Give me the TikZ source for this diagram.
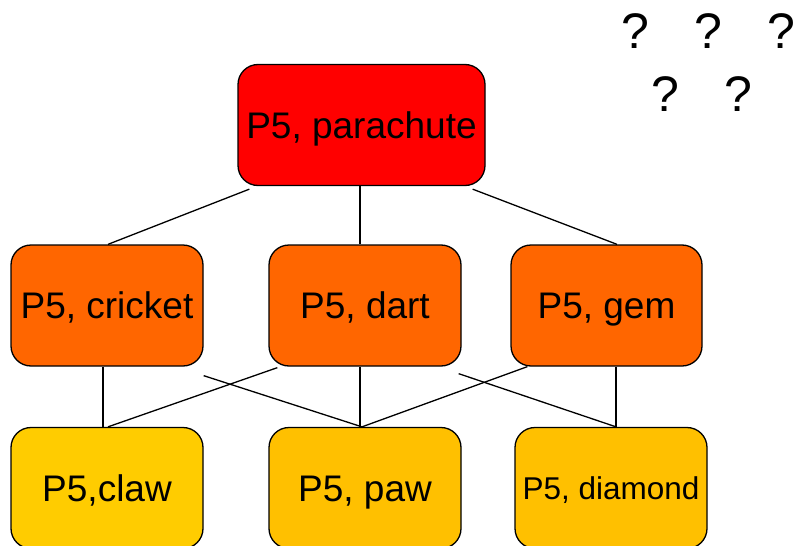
\documentclass[tikz,border=0pt]{standalone}
\usepackage{fontspec}
\setmainfont{Liberation Sans}
\definecolor{topred}{HTML}{FF0000}
\definecolor{midorange}{HTML}{FF6600}
\definecolor{lowgold}{HTML}{FFCC00}
\definecolor{lowamber}{HTML}{FFC000}
\tikzset{
  box/.style={draw=black, line width=1.3pt, rounded corners=20pt,
    inner sep=0pt, minimum width=192pt, minimum height=121pt,
    text height=26.5pt, text depth=0pt,
    font=\fontsize{37}{40}\selectfont, text=black},
  smallbox/.style={box, text height=22.6pt, font=\fontsize{31.5}{34}\selectfont},
  link/.style={draw=black, line width=1.3pt},
  qmark/.style={font=\fontsize{50}{55}\selectfont, inner sep=0pt}
}
\begin{document}
\begin{tikzpicture}[x=1pt, y=-1pt]
\useasboundingbox (0,0) rectangle (793,546);
% top level
\node[box, fill=topred, minimum width=247pt] (par) at (361.5,125) {P5, parachute};
% middle level
\node[box, fill=midorange] (cri) at (107,305.5) {P5, cricket};
\node[box, fill=midorange] (dar) at (365,305.5) {P5, dart};
\node[box, fill=midorange, minimum width=191pt] (gem) at (606.5,305.5) {P5, gem};
% bottom level
\node[box, fill=lowgold] (claw) at (107,488) {P5,claw};
\node[box, fill=lowamber] (paw) at (365,488) {P5, paw};
\node[smallbox, fill=lowamber] (dia) at (611,488) {P5, diamond};
% links from the top box
\draw[link] ([xshift=12pt,yshift=-3pt]par.south west) -- ([xshift=1pt]cri.north);
\draw[link] ([xshift=-5pt]dar.north) -- ([xshift=-5pt]dar.north |- par.south);
\draw[link] ([xshift=-13pt,yshift=-3pt]par.south east) -- ([xshift=10.5pt]gem.north);
% links to the bottom row
\draw[link] ([xshift=-4pt]cri.south) -- ([xshift=-4pt]claw.north);
\draw[link] ([yshift=-9pt]cri.south east) -- ([xshift=-3pt]paw.north);
\draw[link] ([xshift=9pt,yshift=-1pt]dar.south west) -- ([xshift=1pt]claw.north);
\draw[link] ([xshift=-5pt]dar.south) -- ([xshift=-5pt]paw.north);
\draw[link] ([xshift=-3pt,yshift=-7pt]dar.south east) -- ([xshift=5pt]dia.north);
\draw[link] ([xshift=17pt]gem.south west) -- ([xshift=-3pt]paw.north);
\draw[link] ([xshift=9.5pt]gem.south) -- ([xshift=5pt]dia.north);
% question marks
\node[qmark] (q1) at (635,31.5) {?};
\node[qmark] (q2) at (708,31.5) {?};
\node[qmark] (q3) at (781,31.5) {?};
\node[qmark] (q4) at (665,94) {?};
\node[qmark] (q5) at (738,94) {?};
\end{tikzpicture}
\end{document}
